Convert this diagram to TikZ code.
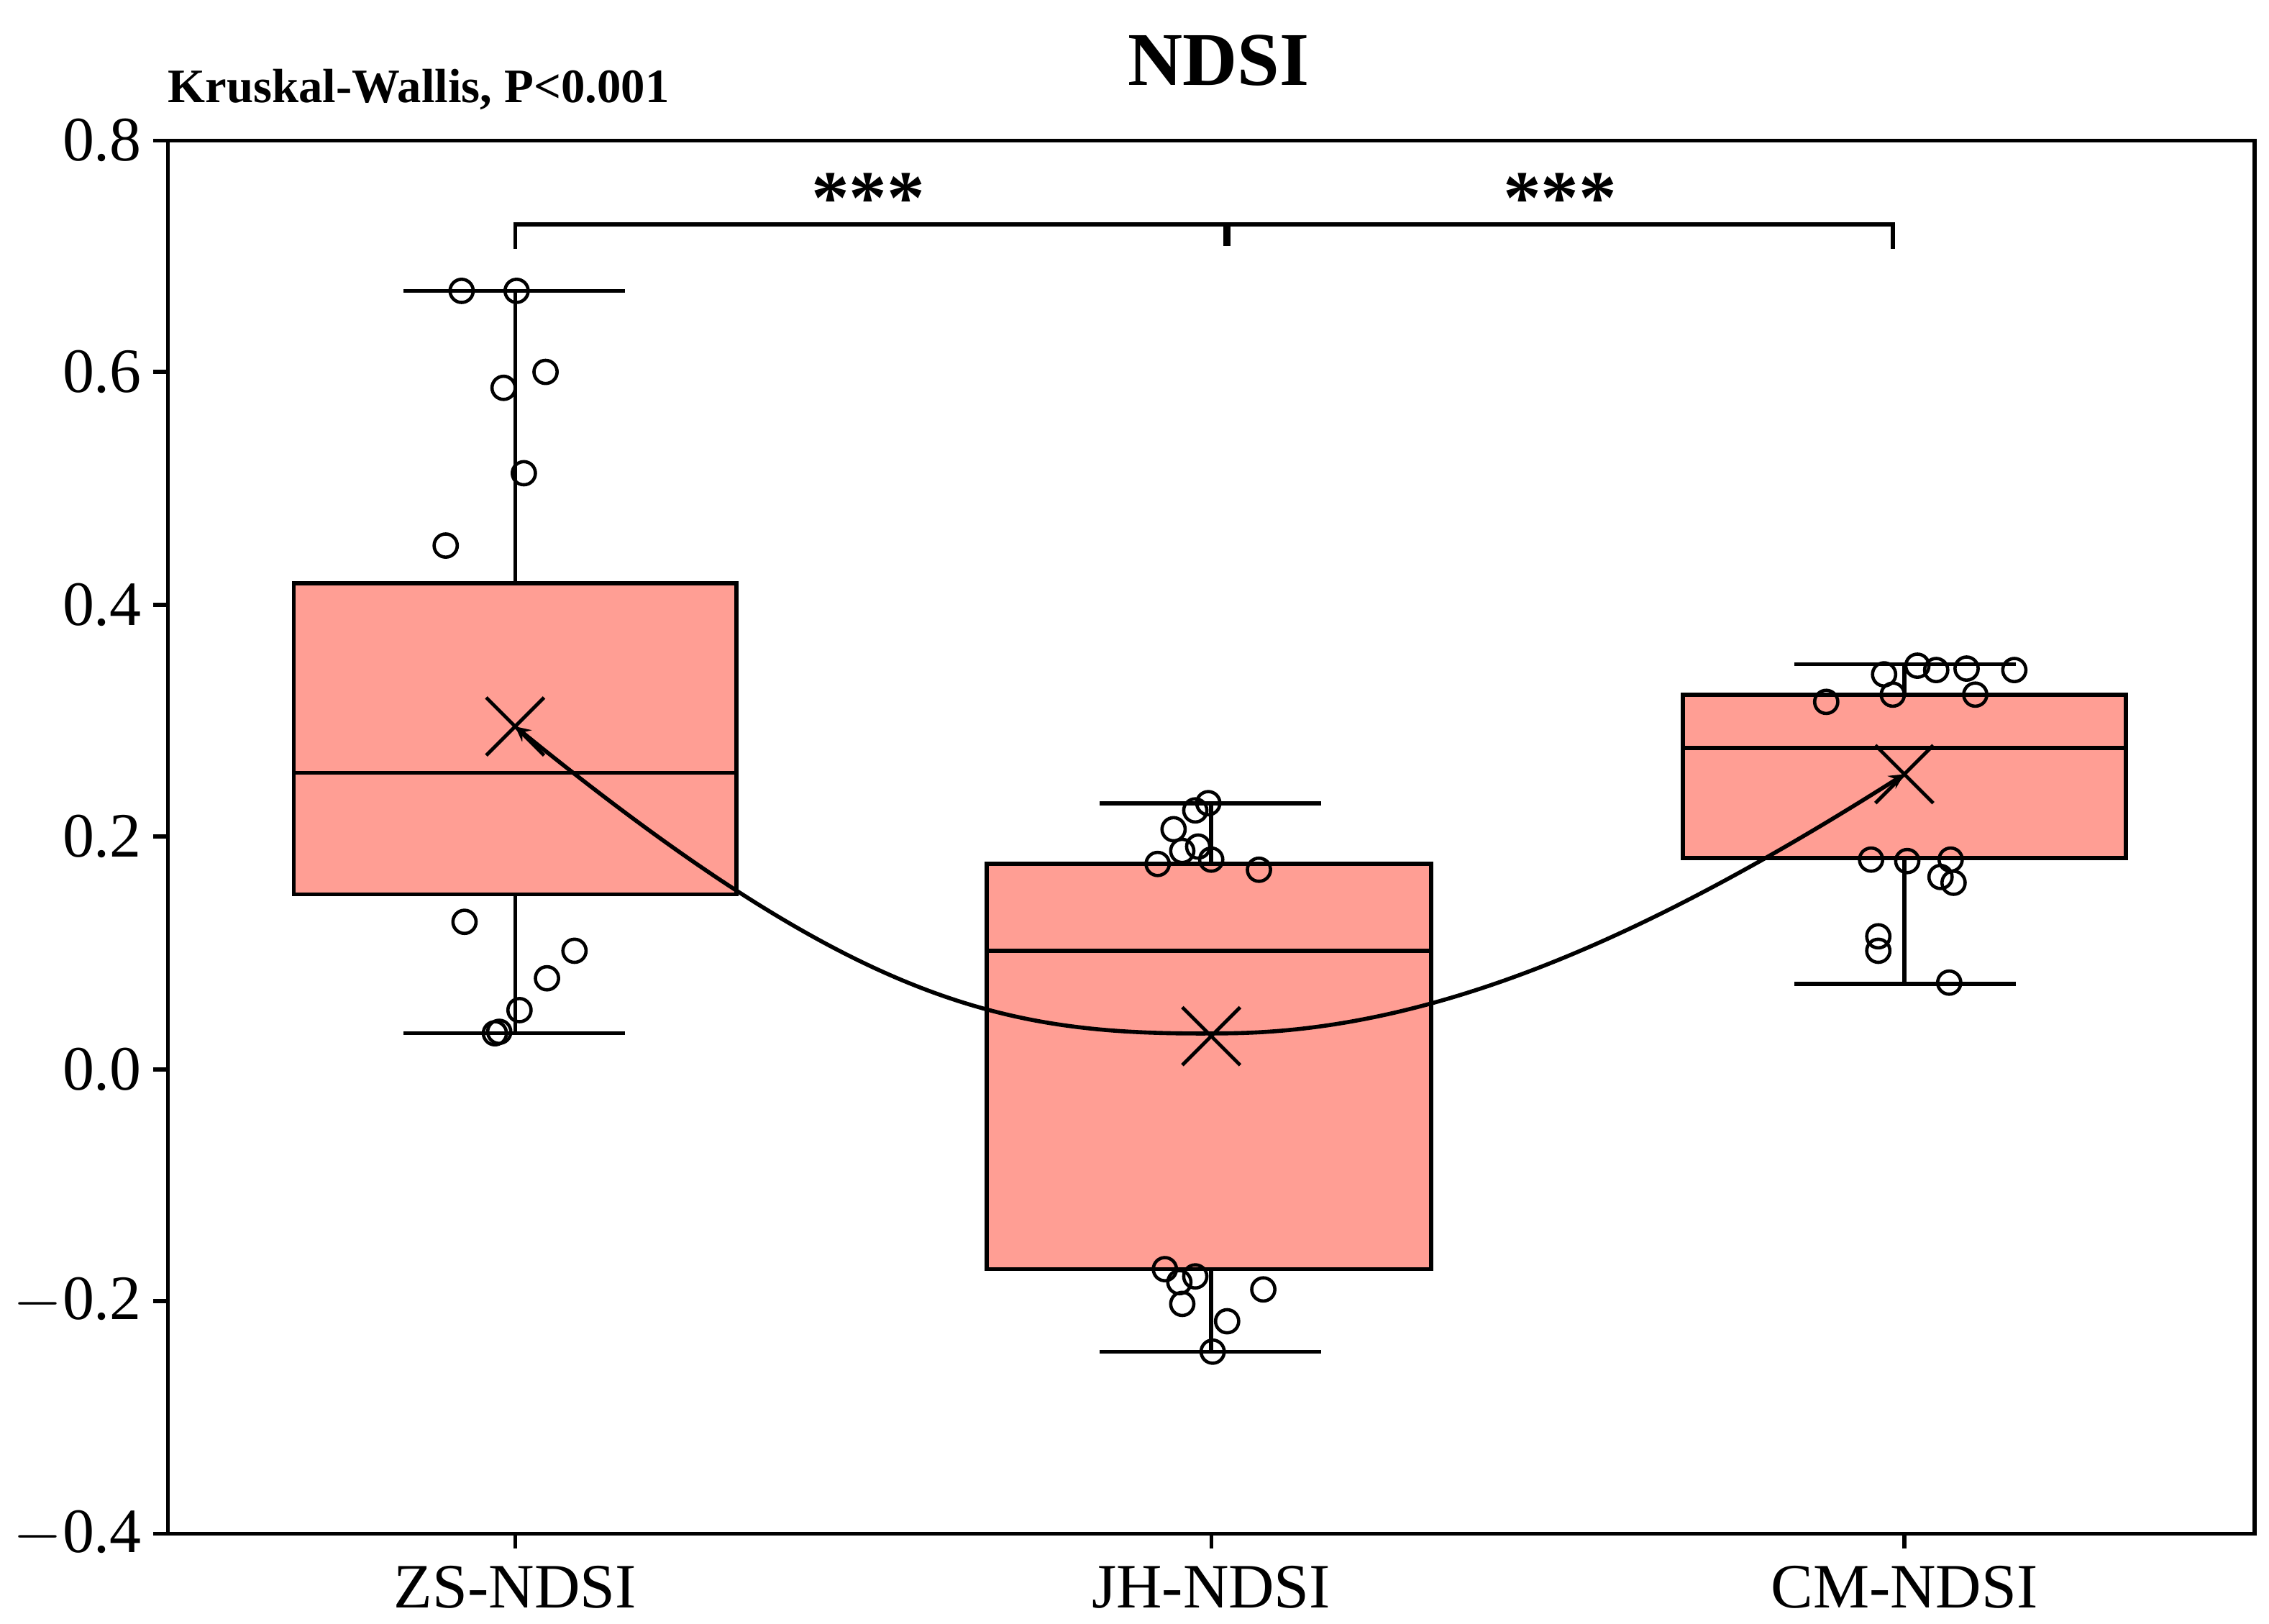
\documentclass[tikz,border=0pt]{standalone}
\usepackage{fontspec}
\setmainfont{Liberation Serif}
\begin{document}
\begin{tikzpicture}[x=0.2012mm,y=-0.2012mm,
  box/.style={fill=boxc,draw=black,line width=1.6pt},
  ln/.style={line width=1.6pt},
  pt/.style={draw=black,line width=1.3pt,fill=none},
  lab/.style={font=\fontsize{25}{30}\selectfont},
  mx/.style={line width=1.4pt}]
\definecolor{boxc}{HTML}{FF9E94}
\useasboundingbox (0,0) rectangle (1568,1122);
% axes frame
\draw[line width=1.5pt] (116,97) rectangle (1558,1060);
% y ticks
\foreach \yy/\t in {97/0.8,257/0.6,418/0.4,578/0.2,739/0.0,899/{$-$0.2},1060/{$-$0.4}}{
  \draw[line width=1.5pt] (116,\yy) -- (106,\yy);
  \node[lab,anchor=east] (yt\yy) at (104,\yy) {\t};}
% x ticks
\foreach \xx/\t in {356/ZS-NDSI,837/JH-NDSI,1316/CM-NDSI}{
  \draw[line width=1.5pt] (\xx,1060) -- (\xx,1070);
  \node[lab] (xt\xx) at (\xx,1097) {\t};}
% title
\node[font=\bfseries\fontsize{30}{36}\selectfont] (title) at (842,42) {NDSI};
\node[font=\bfseries\fontsize{19}{23}\selectfont,anchor=west] (kw) at (110,62) {Kruskal-Wallis, P<0.001};
% whiskers
\draw[ln] (356,201) -- (356,714); \draw[ln] (279,201) -- (432,201); \draw[ln] (279,714) -- (432,714);
\draw[ln] (837,555) -- (837,934); \draw[ln] (760,555) -- (913,555); \draw[ln] (760,934) -- (913,934);
\draw[ln] (1316,459) -- (1316,680); \draw[ln] (1240,459) -- (1393,459); \draw[ln] (1240,680) -- (1393,680);
% boxes
\draw[box] (203,403) rectangle (509,618); \draw[ln] (203,534) -- (509,534);
\draw[box] (682,597) rectangle (989,877); \draw[ln] (682,657) -- (989,657);
\draw[box] (1163,480) rectangle (1469,593); \draw[ln] (1163,517) -- (1469,517);
% points
\foreach \p in {(319,201),(357,201),(348,268),(377,257),(362,327),(308,377),(321,637),(397,657),(378,676),(359,698),(345,713),(342,714),
 (811,573),(826,560),(835,555),(817,588),(828,585),(800,597),(837,594),(870,601),(805,877),(815,886),(826,882),(817,901),(848,913),(873,891),(838,934),
 (1302,466),(1325,460),(1338,463),(1359,462),(1392,463),(1262,485),(1308,480),(1365,480),(1293,594),(1318,595),(1348,594),(1341,606),(1350,610),(1298,647),(1298,657),(1347,679)}
  \draw[pt] \p circle (8);
% means
\foreach \x/\y in {356/502,837/716,1316/535}{
  \draw[mx] (\x-20,\y-20) -- (\x+20,\y+20); \draw[mx] (\x-20,\y+20) -- (\x+20,\y-20);}
\coordinate (m1) at (356,502); \coordinate (m2) at (837,716); \coordinate (m3) at (1316,535);
\draw[line width=1.6pt,<->,>=stealth] (m1) .. controls (600,700) and (700,716) .. (850,714) .. controls (1000,712) and (1150,640) .. (m3);
% brackets
\draw[ln] (356,172) -- (356,155) -- (847,155) -- (847,170);
\draw[ln] (849,170) -- (849,155) -- (1308,155) -- (1308,172);
\node[font=\bfseries\fontsize{30}{36}\selectfont] (s1) at (600,137) {***};
\node[font=\bfseries\fontsize{30}{36}\selectfont] (s2) at (1078,137) {***};
\end{tikzpicture}
\end{document}
